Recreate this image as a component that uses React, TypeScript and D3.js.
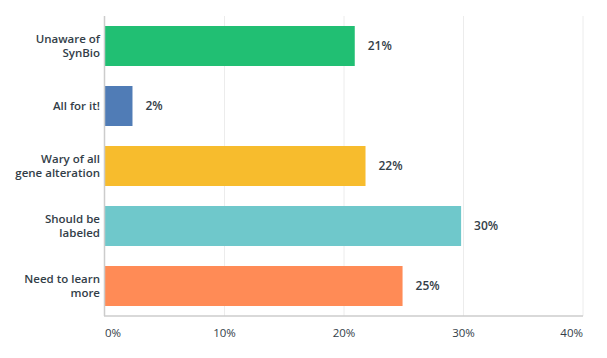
import React from "react";
import * as d3 from "d3";

const categories: string[][] = [
  ["Unaware of", "SynBio"],
  ["All for it!"],
  ["Wary of all", "gene alteration"],
  ["Should be", "labeled"],
  ["Need to learn", "more"],
];
const values: number[] = [20.9, 2.3, 21.8, 29.8, 24.9];
const valueLabels: string[] = ["21%", "2%", "22%", "30%", "25%"];
const colors: string[] = ["#21bf73", "#507cb6", "#f7bc2d", "#6fc8cb", "#ff8b56"];
const ticks: number[] = [0, 10, 20, 30, 40];

const W = 607;
const H = 358;
const left = 105;
const right = 583;
const top = 16;
const bottom = 316;
const font = "'Open Sans', 'Noto Sans', sans-serif";
const textColor = "#333e48";

export default function App() {
  const x = d3.scaleLinear().domain([0, 40]).range([left, right]);
  const y = d3
    .scaleBand<number>()
    .domain(d3.range(values.length))
    .range([top, bottom])
    .paddingInner(1 / 3)
    .paddingOuter(1 / 6);
  const bw = y.bandwidth();
  return (
    <svg
      width={W}
      height={H}
      style={{ position: "absolute", left: 0, top: 0, background: "#fff" }}
    >
      {ticks.slice(1).map((t) => (
        <line
          key={t}
          x1={x(t)}
          x2={x(t)}
          y1={top}
          y2={bottom}
          stroke="#ececec"
          strokeWidth={1}
        />
      ))}
      {values.map((v, i) => (
        <rect
          key={i}
          x={x(0)}
          y={y(i)}
          width={x(v) - x(0)}
          height={bw}
          fill={colors[i]}
        />
      ))}
      <line x1={left - 0.5} x2={left - 0.5} y1={top} y2={bottom} stroke="#cccccc" strokeWidth={1.5} />
      <line x1={left - 1} x2={right} y1={bottom} y2={bottom} stroke="#cccccc" strokeWidth={1.5} />
      {values.map((v, i) => (
        <text
          key={"v" + i}
          x={x(v) + 13}
          y={(y(i) as number) + bw / 2}
          dy="0.35em"
          fontFamily={font}
          fontSize={12}
          fontWeight={600}
          fill={textColor}
        >
          {valueLabels[i]}
        </text>
      ))}
      {categories.map((lines, i) => {
        const cy = (y(i) as number) + bw / 2;
        const lh = 14;
        const start = cy - ((lines.length - 1) * lh) / 2;
        return (
          <text
            key={"c" + i}
            textAnchor="end"
            fontFamily={font}
            fontSize={11.5}
            fontWeight={600}
            fill={textColor}
          >
            {lines.map((l, j) => (
              <tspan key={j} x={100} y={start + j * lh} dy="0.35em">
                {l}
              </tspan>
            ))}
          </text>
        );
      })}
      {ticks.map((t, i) => (
        <text
          key={"t" + t}
          x={x(t)}
          y={333}
          dy="0.35em"
          textAnchor={i === 0 ? "start" : i === ticks.length - 1 ? "end" : "middle"}
          fontFamily={font}
          fontSize={11.5}
          fill={textColor}
        >
          {t + "%"}
        </text>
      ))}
    </svg>
  );
}
